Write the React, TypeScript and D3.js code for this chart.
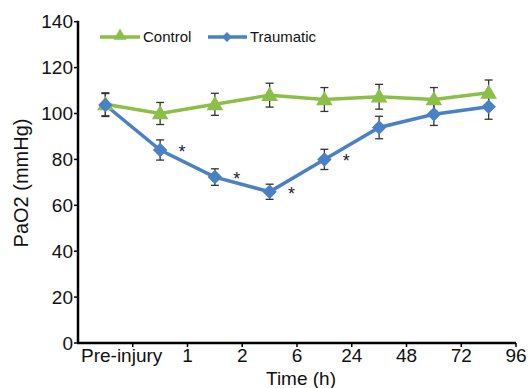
import React from "react";
import * as d3 from "d3";

const categories = ["Pre-injury", "1", "2", "6", "24", "48", "72", "96"];
const controlValues = [104.0, 100.0, 104.0, 108.0, 106.1, 107.3, 106.1, 109.0];
const controlErrors = [5, 4.8, 4.8, 5.2, 5.2, 5.4, 5.2, 5.6];
const traumaValues = [103.7, 84.1, 72.3, 65.9, 80.0, 93.9, 99.7, 102.9];
const traumaErrors = [5, 4.4, 3.6, 3.3, 4.4, 4.9, 4.9, 5.4];
const significant = [false, true, true, true, true, false, false, false];
const yTicks = [0, 20, 40, 60, 80, 100, 120, 140];

const W = 529;
const H = 388;
const FONT = "'Liberation Sans', Arial, Helvetica, sans-serif";
const GREEN = "#8cbf48";
const BLUE = "#4a80c6";

export default function App() {
  const left = 78;
  const right = 516;
  const x = d3.scaleBand<string>().domain(categories).range([left, right]).paddingInner(0).paddingOuter(0);
  const y = d3.scaleLinear().domain([0, 140]).range([343, 21.7]);
  const bw = x.bandwidth();
  const cx = (c: string) => (x(c) as number) + bw / 2;

  const line = d3
    .line<number>()
    .x((_, i) => cx(categories[i]))
    .y((d) => y(d));

  const tri = d3.symbol().type(d3.symbolTriangle).size(120)() as string;
  const triSmall = d3.symbol().type(d3.symbolTriangle).size(75)() as string;
  const dia = d3.symbol().type(d3.symbolSquare).size(105)() as string;
  const diaSmall = d3.symbol().type(d3.symbolSquare).size(50)() as string;

  const errBars = (vals: number[], errs: number[], key: string) =>
    vals.map((v, i) => {
      const px = cx(categories[i]);
      const y1 = y(v + errs[i]);
      const y2 = y(v - errs[i]);
      return (
        <g key={key + i} stroke="#333" strokeWidth={1.3}>
          <line x1={px} x2={px} y1={y1} y2={y2} />
          <line x1={px - 4} x2={px + 4} y1={y1} y2={y1} />
          <line x1={px - 4} x2={px + 4} y1={y2} y2={y2} />
        </g>
      );
    });

  return (
    <svg
      width={W}
      height={H}
      style={{ position: "absolute", left: 0, top: 0, background: "#fff" }}
      fontFamily={FONT}
    >
      <rect width={W} height={H} fill="#fff" />
      {/* y axis */}
      <line x1={left} x2={left} y1={y(140) - 1} y2={y(0)} stroke="#000" strokeWidth={2.5} />
      {yTicks.map((t) => (
        <g key={"yt" + t}>
          <line x1={left - 4} x2={left} y1={y(t)} y2={y(t)} stroke="#000" strokeWidth={1.5} />
          <text x={left - 5} y={y(t)} dy="0.35em" textAnchor="end" fontSize={19} fill="#111">
            {t}
          </text>
        </g>
      ))}
      {/* x axis */}
      <line x1={left - 1} x2={right} y1={y(0)} y2={y(0)} stroke="#000" strokeWidth={2.5} />
      {categories.map((c, i) => {
        const tx = (x(c) as number) + bw;
        return (
          <g key={"xt" + c}>
            <line x1={tx} x2={tx} y1={y(0)} y2={y(0) + 4} stroke="#000" strokeWidth={1.5} />
            <text
              x={i === 0 ? left + 3 : tx}
              y={y(0) + 19}
              textAnchor={i === 0 ? "start" : "middle"}
              fontSize={19}
              fill="#111"
            >
              {c}
            </text>
          </g>
        );
      })}
      <text x={(left + right) / 2 + 4} y={385} textAnchor="middle" fontSize={19} fill="#111">
        Time (h)
      </text>
      <text
        transform={`translate(27.5,${183}) rotate(-90)`}
        textAnchor="middle"
        fontSize={20}
        fill="#111"
      >
        PaO2 (mmHg)
      </text>

      {/* error bars */}
      {errBars(controlValues, controlErrors, "ce")}
      {errBars(traumaValues, traumaErrors, "te")}

      {/* lines */}
      <path d={line(controlValues) as string} fill="none" stroke={GREEN} strokeWidth={3.5} />
      <path d={line(traumaValues) as string} fill="none" stroke={BLUE} strokeWidth={3.5} />

      {controlValues.map((v, i) => (
        <path key={"cm" + i} d={tri} transform={`translate(${cx(categories[i])},${y(v) + 1})`} fill={GREEN} />
      ))}
      {traumaValues.map((v, i) => (
        <path
          key={"tm" + i}
          d={dia}
          transform={`translate(${cx(categories[i])},${y(v)}) rotate(45)`}
          fill={BLUE}
        />
      ))}
      {traumaValues.map((v, i) =>
        significant[i] ? (
          <text key={"s" + i} x={cx(categories[i]) + 22} y={y(v) + 8} textAnchor="middle" fontSize={18} fill="#222">
            *
          </text>
        ) : null
      )}

      {/* legend */}
      <line x1={100} x2={140} y1={37} y2={37} stroke={GREEN} strokeWidth={3.5} />
      <path d={triSmall} transform="translate(120,36)" fill={GREEN} />
      <text x={143} y={37} dy="0.35em" fontSize={15} fill="#111">
        Control
      </text>
      <line x1={208} x2={247} y1={37} y2={37} stroke={BLUE} strokeWidth={3.5} />
      <path d={diaSmall} transform="translate(227,37) rotate(45)" fill={BLUE} />
      <text x={250} y={37} dy="0.35em" fontSize={15} fill="#111">
        Traumatic
      </text>
    </svg>
  );
}
